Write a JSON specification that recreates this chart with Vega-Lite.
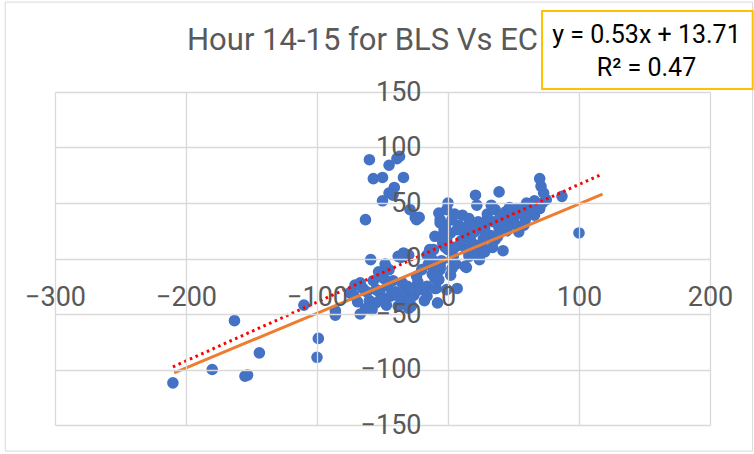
{
  "$schema": "https://vega.github.io/schema/vega-lite/v6.json",
  "width": 655,
  "height": 333,
  "autosize": {"type": "none"},
  "padding": {"left": 55, "top": 92, "right": 44, "bottom": 29},
  "background": "white",
  "title": {
    "text": "Hour 14-15 for BLS Vs EC",
    "font": "Roboto",
    "fontSize": 31,
    "fontWeight": "normal",
    "color": "#595959",
    "anchor": "middle",
    "baseline": "alphabetic",
    "dx": -20,
    "dy": 83
  },
  "config": {
    "view": {"stroke": null},
    "axis": {
      "domain": false,
      "ticks": false,
      "grid": true,
      "gridColor": "#d9d9d9",
      "gridWidth": 1.3,
      "labelFont": "Roboto",
      "labelFontSize": 27,
      "labelColor": "#595959",
      "labelFlush": false,
      "labelOverlap": false,
      "title": null
    }
  },
  "datasets": {
    "points": [
      {"x": -60, "y": 89}, {"x": -45, "y": 84}, {"x": -39, "y": 90}, {"x": -37, "y": 92},
      {"x": -57, "y": 72}, {"x": -50, "y": 73}, {"x": -34, "y": 73}, {"x": -41, "y": 64},
      {"x": -45, "y": 59}, {"x": -50, "y": 52}, {"x": -63, "y": 35}, {"x": -29, "y": 44},
      {"x": -25, "y": 37}, {"x": -22, "y": 37}, {"x": -24, "y": 35}, {"x": -42, "y": 57},
      {"x": -210, "y": -112}, {"x": -180, "y": -100}, {"x": -163, "y": -56}, {"x": -155, "y": -106},
      {"x": -153, "y": -105}, {"x": -144, "y": -85}, {"x": -110, "y": -42}, {"x": -99, "y": -72},
      {"x": -100, "y": -89}, {"x": -86, "y": -47}, {"x": -86, "y": -51}, {"x": -75, "y": -31},
      {"x": -67, "y": -50}, {"x": -67, "y": -22}, {"x": -72, "y": -33},
      {"x": -59, "y": -1}, {"x": -38, "y": 2}, {"x": -34, "y": 5}, {"x": -36, "y": 1}, {"x": -30, "y": 3},
      {"x": -63, "y": -45}, {"x": -58, "y": -46}, {"x": -55, "y": -40}, {"x": -52, "y": -31},
      {"x": -49, "y": -18}, {"x": -46, "y": -25}, {"x": -44, "y": -34}, {"x": -47, "y": -42},
      {"x": -40, "y": -30}, {"x": -38, "y": -34}, {"x": -38, "y": -43}, {"x": -35, "y": -22},
      {"x": -33, "y": -30}, {"x": -34, "y": -39}, {"x": -31, "y": -25}, {"x": -30, "y": -45},
      {"x": -29, "y": -37}, {"x": -28, "y": -43}, {"x": -26, "y": -33}, {"x": -24, "y": -16},
      {"x": -24, "y": -25}, {"x": -23, "y": -21}, {"x": -22, "y": -28}, {"x": -20, "y": -10},
      {"x": -18, "y": -38}, {"x": -16, "y": -34}, {"x": -16, "y": -25}, {"x": -15, "y": -5},
      {"x": -14, "y": -4}, {"x": -12, "y": -14}, {"x": -10, "y": -18}, {"x": -10, "y": -27},
      {"x": -9, "y": -27}, {"x": -8, "y": -40}, {"x": -7, "y": -19}, {"x": -6, "y": -10},
      {"x": -8, "y": -7}, {"x": -11, "y": -9}, {"x": -5, "y": -2}, {"x": -60, "y": -38},
      {"x": -62, "y": -30}, {"x": -65, "y": -27}, {"x": -55, "y": -28}, {"x": -50, "y": -37},
      {"x": -42, "y": -20}, {"x": -45, "y": -10}, {"x": -48, "y": -5}, {"x": -53, "y": -12},
      {"x": -57, "y": -20}, {"x": -69, "y": -39}, {"x": -71, "y": -24}, {"x": -1, "y": -28},
      {"x": -16, "y": 3}, {"x": -11, "y": 8}, {"x": -14, "y": 8}, {"x": -12, "y": -1},
      {"x": -6, "y": -7}, {"x": 3, "y": -1}, {"x": 13, "y": -7}, {"x": 14, "y": -8},
      {"x": 7, "y": -27}, {"x": 24, "y": -1}, {"x": 22, "y": 5}, {"x": 0, "y": 8},
      {"x": 3, "y": -9}, {"x": 4, "y": 2}, {"x": 14, "y": 8}, {"x": 9, "y": 12},
      {"x": 21, "y": 12}, {"x": 17, "y": 17}, {"x": 13, "y": 21}, {"x": 27, "y": 18},
      {"x": 32, "y": 21}, {"x": 36, "y": 17}, {"x": 24, "y": 5}, {"x": 42, "y": 7},
      {"x": -5, "y": 20}, {"x": -1, "y": 17}, {"x": 2, "y": 23}, {"x": -10, "y": 20},
      {"x": -6, "y": 35}, {"x": -2, "y": 30}, {"x": 3, "y": 35}, {"x": 7, "y": 26},
      {"x": 11, "y": 39}, {"x": 16, "y": 36}, {"x": 22, "y": 48}, {"x": 23, "y": 33},
      {"x": 25, "y": 27}, {"x": 30, "y": 36}, {"x": 33, "y": 48}, {"x": 36, "y": 44},
      {"x": 35, "y": 33}, {"x": 39, "y": 27}, {"x": 44, "y": 42}, {"x": 46, "y": 33},
      {"x": 50, "y": 36}, {"x": 52, "y": 30}, {"x": 54, "y": 24}, {"x": 55, "y": 45},
      {"x": 60, "y": 50}, {"x": 61, "y": 42}, {"x": 65, "y": 45}, {"x": 66, "y": 39},
      {"x": 59, "y": 35}, {"x": 75, "y": 53}, {"x": 21, "y": 57}, {"x": 39, "y": 60},
      {"x": 70, "y": 72}, {"x": 71, "y": 65}, {"x": 73, "y": 59}, {"x": 87, "y": 56},
      {"x": 100, "y": 23}, {"x": 0, "y": 50}, {"x": -7, "y": 41}, {"x": -6, "y": 32},
      {"x": -3, "y": 26}, {"x": -4, "y": 14}, {"x": -1, "y": 44}, {"x": 5, "y": 40},
      {"x": 8, "y": 30}, {"x": 12, "y": 28}, {"x": 18, "y": 30}, {"x": 20, "y": 24},
      {"x": 28, "y": 28}, {"x": 30, "y": 40}, {"x": 40, "y": 38}, {"x": 42, "y": 30},
      {"x": 45, "y": 25}, {"x": 48, "y": 40}, {"x": 57, "y": 40}, {"x": 63, "y": 48},
      {"x": 68, "y": 48}, {"x": 70, "y": 45}, {"x": 72, "y": 50}, {"x": 66, "y": 52},
      {"x": 58, "y": 30}, {"x": 52, "y": 45}, {"x": 47, "y": 46}, {"x": 38, "y": 20},
      {"x": 34, "y": 10}, {"x": 26, "y": 12}, {"x": 18, "y": 22}, {"x": 10, "y": 16},
      {"x": 5, "y": 10}, {"x": -2, "y": 10}, {"x": -9, "y": -15}, {"x": 2, "y": -15},
      {"x": 6, "y": -5}, {"x": 16, "y": 2}, {"x": 28, "y": 6}
    ],
    "fitLine": [
      {"x": -209, "y": -103},
      {"x": 118, "y": 58}
    ],
    "trendLine": [
      {"x": -210, "y": -97.59},
      {"x": 116, "y": 75.19}
    ],
    "frames": [
      {"kind": "chart", "x": -338, "x2": 232.5, "y": 231, "y2": -173.5, "stroke": "#d9d9d9", "sw": 1},
      {"kind": "equation", "x": 71.8, "x2": 232.6, "y": 223, "y2": 152.7, "stroke": "#FFC000", "sw": 2}
    ],
    "equation": [
      {"x": 151.5, "y": 194.1, "text": "y = 0.53x + 13.71"},
      {"x": 151.5, "y": 164.4, "text": "R² = 0.47"}
    ]
  },
  "layer": [
    {
      "data": {"name": "points"},
      "mark": {"type": "point", "filled": true, "size": 135, "color": "#4472C4", "opacity": 1},
      "encoding": {
        "x": {
          "field": "x", "type": "quantitative",
          "scale": {"domain": [-300, 200], "nice": false, "zero": false},
          "axis": {"orient": "bottom", "offset": -166.5, "labelPadding": 26, "values": [-300, -200, -100, 0, 100, 200], "zindex": 1}
        },
        "y": {
          "field": "y", "type": "quantitative",
          "scale": {"domain": [-150, 150], "nice": false, "zero": false},
          "axis": {"orient": "left", "offset": -393, "labelPadding": 27, "values": [-150, -100, -50, 0, 50, 100, 150], "zindex": 1}
        }
      }
    },
    {
      "data": {"name": "fitLine"},
      "mark": {"type": "line", "color": "#ED7D31", "strokeWidth": 3},
      "encoding": {
        "x": {"field": "x", "type": "quantitative"},
        "y": {"field": "y", "type": "quantitative"}
      }
    },
    {
      "data": {"name": "trendLine"},
      "mark": {"type": "line", "color": "#FF0000", "strokeWidth": 3, "strokeDash": [2.6, 3.6]},
      "encoding": {
        "x": {"field": "x", "type": "quantitative"},
        "y": {"field": "y", "type": "quantitative"}
      }
    },
    {
      "data": {"name": "frames"},
      "mark": {"type": "rect", "fill": "white"},
      "encoding": {
        "x": {"field": "x", "type": "quantitative"},
        "x2": {"field": "x2"},
        "y": {"field": "y", "type": "quantitative"},
        "y2": {"field": "y2"},
        "fillOpacity": {"condition": {"test": "datum.kind === 'chart'", "value": 0}, "value": 1},
        "stroke": {"field": "stroke", "type": "nominal", "scale": null},
        "strokeWidth": {"field": "sw", "type": "quantitative", "scale": null}
      }
    },
    {
      "data": {"name": "equation"},
      "mark": {"type": "text", "font": "Roboto", "fontSize": 25, "color": "#000000", "align": "center", "baseline": "alphabetic"},
      "encoding": {
        "x": {"field": "x", "type": "quantitative"},
        "y": {"field": "y", "type": "quantitative"},
        "text": {"field": "text"}
      }
    }
  ]
}
